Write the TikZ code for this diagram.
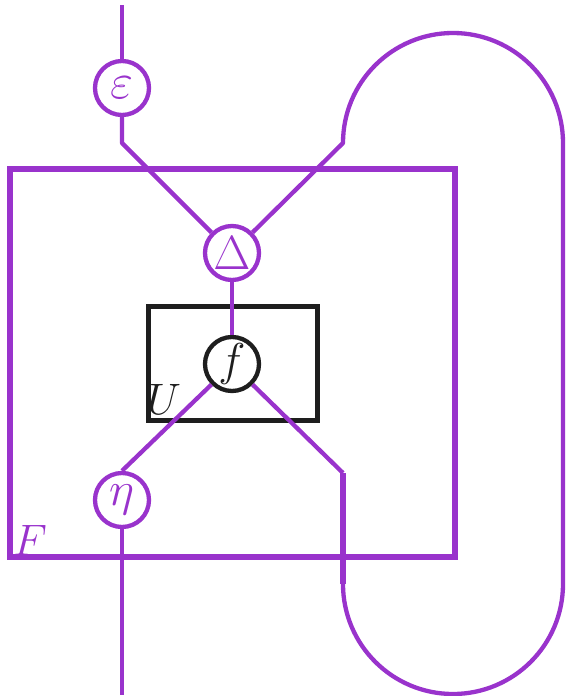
\RequirePackage{fix-cm}
\documentclass[tikz,border=0pt]{standalone}
\definecolor{wirepurple}{RGB}{153,51,204}
\definecolor{boxblack}{RGB}{30,30,30}
\begin{document}
\begin{tikzpicture}[x=1pt,y=-1pt,
  wire/.style={draw=wirepurple,line width=4.3pt},
  thickwire/.style={draw=wirepurple,line width=5.5pt},
  dot/.style={circle,draw=wirepurple,line width=4.3pt,minimum size=54pt,inner sep=0pt},
  morph/.style={circle,draw=boxblack,line width=4.3pt,minimum size=54pt,inner sep=0pt},
  dottext/.style={inner sep=0pt,text=wirepurple},
  morphtext/.style={inner sep=0pt,text=boxblack},
  functorbox/.style={draw=wirepurple,line width=5.8pt},
  ubox/.style={draw=boxblack,line width=5.3pt},
  lbl/.style={inner sep=0pt,font=\fontsize{44}{48}\selectfont}]
\useasboundingbox (0,0) rectangle (565,696);
% boxes
\draw[functorbox] (10,169) rectangle (455,557);
\draw[ubox] (148.5,306.5) rectangle (317.5,420.5);
\node[lbl,text=wirepurple,anchor=base west] (Flab) at (13,555) {$F$};
\node[lbl,text=boxblack,anchor=base west] (Ulab) at (147,414) {$U$};
% nodes
\node[dot,label={[dottext,font=\fontsize{50}{54}\selectfont]center:$\varepsilon$}] (eps) at (122,88) {};
\node[dot,label={[dottext,font=\fontsize{48}{52}\selectfont]center:$\Delta$}] (del) at (232,253) {};
\node[morph,label={[morphtext,font=\fontsize{46}{50}\selectfont]center:$f$}] (f) at (232,364) {};
\node[dot,label={[dottext,font=\fontsize{48}{52}\selectfont]center:$\eta$}] (eta) at (122,500) {};
% coordinates
\coordinate (top) at (122,5);
\coordinate (kl) at (122,143);
\coordinate (kr) at (343,143);
\coordinate (rt) at (563,143);
\coordinate (rb) at (563,584);
\coordinate (lb) at (343,584);
\coordinate (mr) at (343,473);
\coordinate (bot) at (122,695);
% wires
\draw[wire] (top) -- (eps.north);
\draw[wire,line join=round] (eps.south) -- (kl) -- (del.135);
\draw[wire,line join=round] (del.45) -- (kr) arc[start angle=180,end angle=0,radius=110pt] -- (rb) arc[start angle=0,end angle=-180,radius=110pt];
\draw[thickwire] (lb) -- (mr);
\draw[wire,line join=round] (mr) -- (f.-45);
\draw[wire] (del.south) -- (f.north);
\draw[wire] (f.-135) -- (eta.north);
\draw[wire] (eta.south) -- (bot);
\end{tikzpicture}
\end{document}
